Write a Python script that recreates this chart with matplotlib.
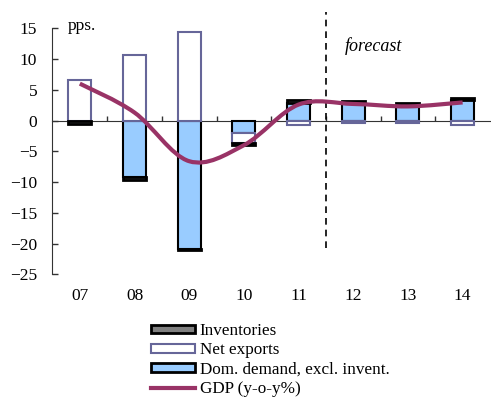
import matplotlib
matplotlib.use("Agg")
import matplotlib.pyplot as plt
import numpy as np
from matplotlib.path import Path
from matplotlib.patches import PathPatch, Patch
from matplotlib.lines import Line2D

plt.rcParams['font.family'] = ['Liberation Serif', 'DejaVu Serif']

years = ['07', '08', '09', '10', '11', '12', '13', '14']
inventories = [-0.55, -0.5, -0.2, -0.4, 0.4, 0.2, 0.25, 0.3]
net_exports = [6.6, 10.7, 14.4, -1.6, -0.75, -0.4, -0.4, -0.65]
dom_demand = [0.0, -9.1, -20.8, -2.0, 2.9, 2.9, 2.6, 3.3]
gdp = [6.0, 1.3, -6.6, -4.0, 2.6, 2.7, 2.3, 2.95]

C_DOM = '#99ccff'
C_NET = '#666699'
C_INV = '#808080'
C_GDP = '#993366'
FS = 12.5

fig = plt.figure(figsize=(4.91, 4.01), dpi=100)
ax = fig.add_axes([0.1069, 0.3155, 0.891, 0.654])

x = np.arange(len(years))
w = 0.42
pos = np.zeros(len(years))
neg = np.zeros(len(years))

# stack positives up, negatives down (dom demand, net exports, inventories)
series = [
    (dom_demand, dict(facecolor=C_DOM, edgecolor='black', linewidth=1.5)),
    (net_exports, dict(facecolor='white', edgecolor=C_NET, linewidth=1.5)),
    (inventories, dict(facecolor=C_INV, edgecolor='black', linewidth=2.0)),
]
for vals, st in series:
    v = np.array(vals)
    base = np.where(v >= 0, pos, neg)
    ax.bar(x, v, w, bottom=base, zorder=2, **st)
    pos = pos + np.where(v >= 0, v, 0)
    neg = neg + np.where(v < 0, v, 0)


def smooth_path(xs, ys, t=1 / 6):
    pts = list(zip(xs, ys))
    verts = [pts[0]]
    codes = [Path.MOVETO]
    n = len(pts)
    for i in range(n - 1):
        p0 = pts[i - 1] if i > 0 else pts[i]
        p1 = pts[i]
        p2 = pts[i + 1]
        p3 = pts[i + 2] if i + 2 < n else pts[i + 1]
        c1 = (p1[0] + (p2[0] - p0[0]) * t, p1[1] + (p2[1] - p0[1]) * t)
        c2 = (p2[0] - (p3[0] - p1[0]) * t, p2[1] - (p3[1] - p1[1]) * t)
        verts += [c1, c2, p2]
        codes += [Path.CURVE4] * 3
    return Path(verts, codes)


ax.add_patch(PathPatch(smooth_path(x, gdp), facecolor='none', edgecolor=C_GDP,
                       linewidth=3.0, capstyle='butt', zorder=4))

# forecast divider between 11 and 12
ax.vlines(4.5, -20.7, 17.6, color='black', linewidth=1.2,
          linestyles=(0, (4, 3)), zorder=3)
ax.set_xlim(-0.5, 7.5)
ax.set_ylim(-25, 17.6)

for s in ['top', 'right']:
    ax.spines[s].set_visible(False)
ax.spines['left'].set_bounds(-25, 15)
ax.spines['left'].set_color('#333333')
ax.spines['bottom'].set_position(('data', 0))
ax.spines['bottom'].set_color('#333333')
ax.spines['bottom'].set_zorder(1)

ax.set_yticks(np.arange(-25, 16, 5))
ax.tick_params(axis='y', direction='in', length=4, width=1, pad=11,
               labelsize=FS, colors='#333333', labelcolor='black')
ax.set_xticks(x[:-1] + 0.5)
ax.tick_params(axis='x', direction='in', length=3.5, width=1,
               labelbottom=False, colors='#333333')

for i, lab in enumerate(years):
    ax.annotate(lab, xy=(i, 0), xycoords=('data', 'axes fraction'),
                xytext=(0, -15.5), textcoords='offset points',
                ha='center', va='center', fontsize=FS)

fig.text(68 / 491, 1 - 30 / 401, 'pps.', fontsize=FS, va='baseline')
ax.text(4.84, 11.35, 'forecast', fontsize=13, style='italic', va='baseline')

handles = [
    Patch(facecolor=C_INV, edgecolor='black', linewidth=2.0),
    Patch(facecolor='white', edgecolor=C_NET, linewidth=1.5),
    Patch(facecolor=C_DOM, edgecolor='black', linewidth=2.0),
    Line2D([0], [0], color=C_GDP, linewidth=3.0),
]
labels = ['Inventories', 'Net exports', 'Dom. demand, excl. invent.', 'GDP (y-o-y%)']
fig.legend(handles, labels, loc='upper left',
           bbox_to_anchor=(151 / 491, 1 - 323 / 401), frameon=False,
           fontsize=12.3, borderpad=0, borderaxespad=0, handlelength=2.6,
           handleheight=0.4, handletextpad=0.25, labelspacing=0.2)

fig.savefig('out.png', dpi=100)
